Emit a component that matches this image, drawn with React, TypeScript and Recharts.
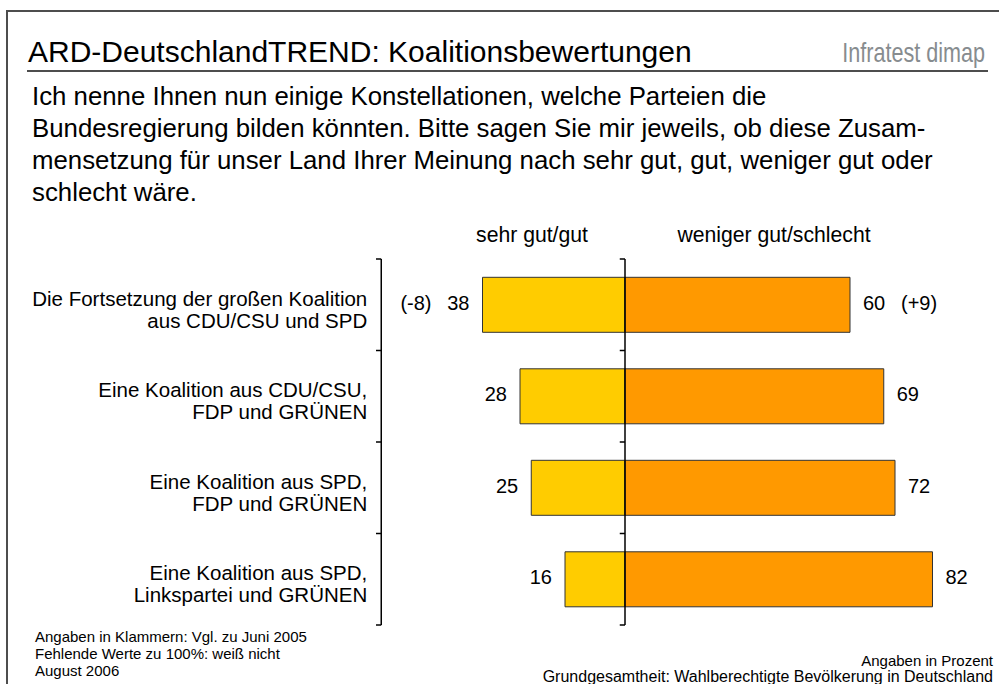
import { BarChart, Bar, XAxis, YAxis, ReferenceLine, LabelList } from "recharts"

const categories = [
  ["Die Fortsetzung der großen Koalition", "aus CDU/CSU und SPD"],
  ["Eine Koalition aus CDU/CSU,", "FDP und GRÜNEN"],
  ["Eine Koalition aus SPD,", "FDP und GRÜNEN"],
  ["Eine Koalition aus SPD,", "Linkspartei und GRÜNEN"],
]
const sehrGutGut = [38, 28, 25, 16]
const wenigerGutSchlecht = [60, 69, 72, 82]
// Vgl. zu Juni 2005
const changeGood: (number | null)[] = [-8, null, null, null]
const changeBad: (number | null)[] = [9, null, null, null]
const rowBounds = [0, 1, 2, 3, 4]
const xDomain = [-65, 95]

const questionLines = [
  "Ich nenne Ihnen nun einige Konstellationen, welche Parteien die",
  "Bundesregierung bilden könnten. Bitte sagen Sie mir jeweils, ob diese Zusam-",
  "mensetzung für unser Land Ihrer Meinung nach sehr gut, gut, weniger gut oder",
  "schlecht wäre.",
]
const notesLeft = ["Angaben in Klammern: Vgl. zu Juni 2005", "Fehlende Werte zu 100%: weiß nicht", "August 2006"]

const data = categories.map((c, i) => ({
  name: c.join(" "),
  row: i + 0.5,
  good: -sehrGutGut[i],
  bad: wenigerGutSchlecht[i],
}))

const FONT = '"Liberation Sans", Arial, Helvetica, sans-serif'
const YELLOW = "#FFCC00"
const ORANGE = "#FF9900"
const TICK_UNITS = 1.4 // tick length in x units (~5px)

const fmtChange = (v: number) => `(${v > 0 ? "+" : ""}${v})`

function CategoryTick(props: any) {
  const { x, y, payload } = props
  const idx = data.findIndex((d) => d.name === payload.value)
  const lines = categories[idx] || []
  return (
    <g>
      {lines.map((l, i) => (
        <text key={i} x={x - 14} y={y + 1 + i * 22} textAnchor="end" fontSize={20.5} fontFamily={FONT} fill="#000">
          {l}
        </text>
      ))}
    </g>
  )
}

function GoodLabel(props: any) {
  const { x, y, width, height, index } = props
  const left = Math.min(x, x + width)
  const cy = y + height / 2 + 5
  const ch = changeGood[index]
  return (
    <g fontFamily={FONT} fontSize={20} fill="#000">
      <text x={left - 13} y={cy} textAnchor="end">{sehrGutGut[index]}</text>
      {ch != null && <text x={left - 51} y={cy} textAnchor="end">{fmtChange(ch)}</text>}
    </g>
  )
}

function BadLabel(props: any) {
  const { x, y, width, height, index } = props
  const right = Math.max(x, x + width)
  const cy = y + height / 2 + 5
  const ch = changeBad[index]
  return (
    <g fontFamily={FONT} fontSize={20} fill="#000">
      <text x={right + 13} y={cy}>{wenigerGutSchlecht[index]}</text>
      {ch != null && <text x={right + 51} y={cy}>{fmtChange(ch)}</text>}
    </g>
  )
}

export default function App() {
  return (
    <div style={{ position: "absolute", left: 0, top: 0, width: 999, height: 684, overflow: "hidden", background: "#fff", fontFamily: FONT }}>
      {/* frame */}
      <div style={{ position: "absolute", left: 6, top: 10, width: 1100, height: 800, borderTop: "2px solid #4d4d4d", borderLeft: "2px solid #4d4d4d" }} />
      <svg width={999} height={684} style={{ position: "absolute", left: 0, top: 0 }}>
        <text x={28} y={62} fontSize={30} fontFamily={FONT} fill="#000">ARD-DeutschlandTREND: Koalitionsbewertungen</text>
        <text
          x={0}
          y={0}
          fontSize={27}
          fontFamily={FONT}
          fill="#878c8f"
          textAnchor="end"
          transform="translate(985 62) scale(0.8 1)"
        >
          Infratest dimap
        </text>
        <line x1={27} x2={988} y1={71} y2={71} stroke="#4d4d4d" strokeWidth={2} />
        {questionLines.map((l, i) => (
          <text key={i} x={32} y={105 + i * 32} fontSize={25.8} fontFamily={FONT} fill="#000">{l}</text>
        ))}
        <text x={532} y={242} fontSize={21.2} fontFamily={FONT} textAnchor="middle" fill="#000">sehr gut/gut</text>
        <text x={774} y={242} fontSize={21.2} fontFamily={FONT} textAnchor="middle" fill="#000">weniger gut/schlecht</text>
        {notesLeft.map((l, i) => (
          <text key={i} x={35} y={642 + i * 17} fontSize={15} fontFamily={FONT} fill="#000">{l}</text>
        ))}
        <text x={993} y={666} fontSize={15} fontFamily={FONT} textAnchor="end" fill="#000">Angaben in Prozent</text>
        <text x={993} y={682} fontSize={16} fontFamily={FONT} textAnchor="end" fill="#000">Grundgesamtheit: Wahlberechtigte Bevölkerung in Deutschland</text>
      </svg>
      <div style={{ position: "absolute", left: 0, top: 0 }}>
        <BarChart
          width={999}
          height={684}
          data={data}
          layout="vertical"
          stackOffset="sign"
          barCategoryGap="20%"
          margin={{ top: 259, bottom: 59, left: 181.25, right: 17.75 }}
        >
          <XAxis type="number" domain={xDomain} allowDataOverflow hide />
          <YAxis
            yAxisId="cat"
            type="category"
            dataKey="name"
            width={200}
            interval={0}
            tick={<CategoryTick />}
            tickLine={false}
            tickSize={0}
            tickMargin={0}
            axisLine={{ stroke: "#000", strokeWidth: 1.5 }}
          />
          <YAxis yAxisId="grid" type="number" dataKey="row" domain={[0, 4]} allowDataOverflow hide />
          <Bar dataKey="good" yAxisId="cat" stackId="s" fill={YELLOW} stroke="#333" strokeWidth={1} isAnimationActive={false}>
            <LabelList dataKey="good" content={<GoodLabel />} />
          </Bar>
          <Bar dataKey="bad" yAxisId="cat" stackId="s" fill={ORANGE} stroke="#333" strokeWidth={1} isAnimationActive={false}>
            <LabelList dataKey="bad" content={<BadLabel />} />
          </Bar>
          <ReferenceLine x={0} yAxisId="grid" stroke="#000" strokeWidth={1.5} />
          {rowBounds.map((b) => (
            <ReferenceLine
              key={"z" + b}
              yAxisId="grid"
              ifOverflow="visible"
              segment={[{ x: -TICK_UNITS, y: b }, { x: 0, y: b }]}
              stroke="#000"
              strokeWidth={1.5}
            />
          ))}
          {rowBounds.map((b) => (
            <ReferenceLine
              key={"l" + b}
              yAxisId="grid"
              ifOverflow="visible"
              segment={[{ x: xDomain[0] - TICK_UNITS, y: b }, { x: xDomain[0], y: b }]}
              stroke="#000"
              strokeWidth={1.5}
            />
          ))}
        </BarChart>
      </div>
    </div>
  )
}
